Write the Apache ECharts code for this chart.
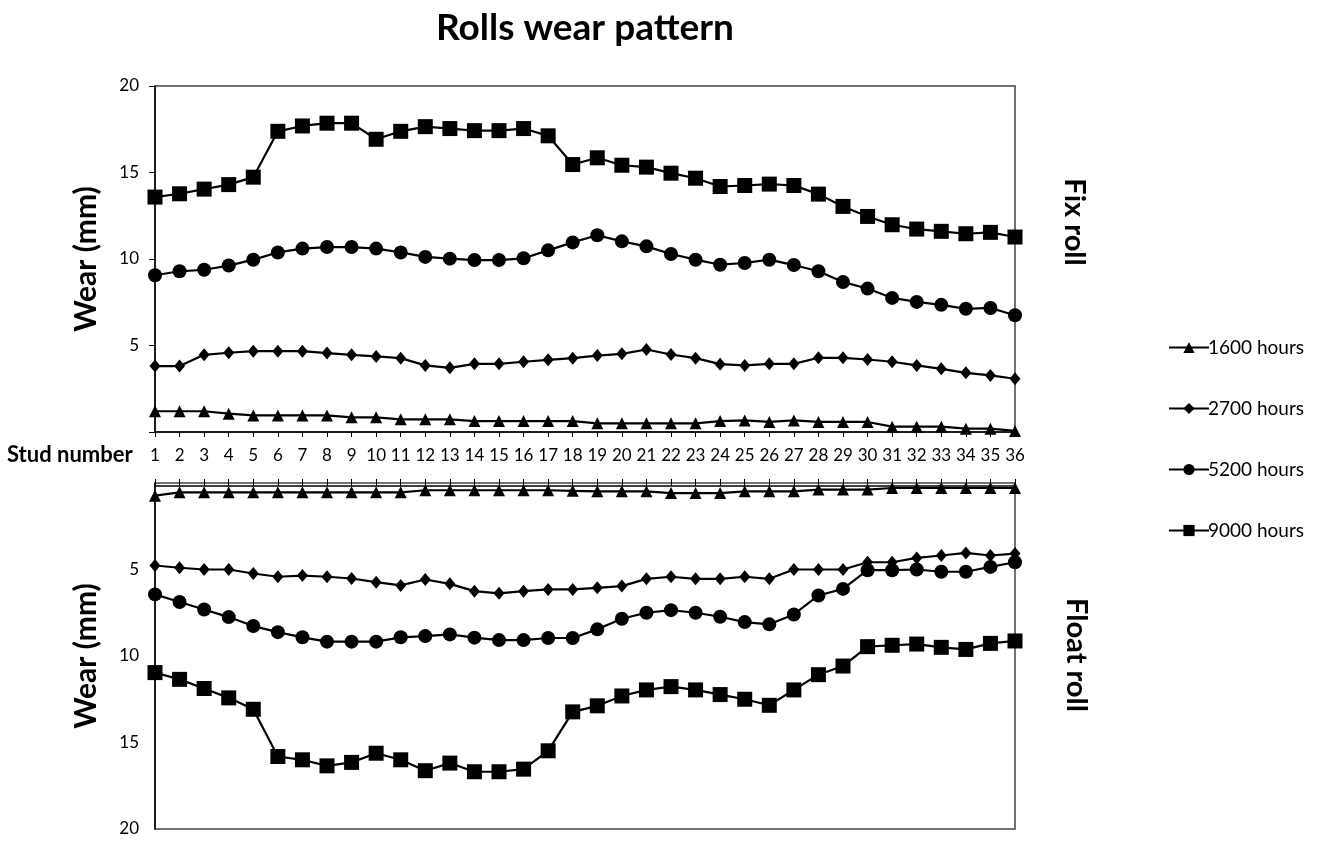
<!DOCTYPE html>
<html>
<head>
<meta charset="utf-8">
<script src="https://cdn.jsdelivr.net/npm/echarts@6/dist/echarts.min.js"></script>
<style>
  html, body { margin: 0; padding: 0; background: #fff; }
  #chart { width: 1320px; height: 843px; }
</style>
</head>
<body>
<div id="chart"></div>
<script>
// Stud positions along the roll
const studs = ['1','2','3','4','5','6','7','8','9','10','11','12','13','14','15','16','17','18',
  '19','20','21','22','23','24','25','26','27','28','29','30','31','32','33','34','35','36'];

const hours = ['1600 hours', '2700 hours', '5200 hours', '9000 hours'];
const wearTicks = [0, 5, 10, 15, 20];

// Fix roll wear (mm)
const fix1600 = [1.2,1.2,1.2,1.06,0.96,0.96,0.96,0.96,0.85,0.85,0.73,0.73,0.73,0.63,0.63,0.63,0.63,0.63,
  0.5,0.5,0.5,0.5,0.5,0.63,0.67,0.58,0.67,0.58,0.58,0.58,0.31,0.31,0.31,0.19,0.19,0.06];
const fix2700 = [3.81,3.81,4.46,4.58,4.67,4.67,4.67,4.56,4.46,4.37,4.27,3.85,3.71,3.94,3.94,4.06,4.17,4.27,
  4.42,4.52,4.77,4.48,4.27,3.92,3.85,3.94,3.94,4.29,4.29,4.19,4.06,3.85,3.65,3.42,3.27,3.08];
const fix5200 = [9.06,9.29,9.38,9.62,9.96,10.38,10.6,10.69,10.69,10.6,10.38,10.12,10.02,9.94,9.94,10.04,10.5,10.96,
  11.37,11.02,10.73,10.29,9.96,9.67,9.77,9.96,9.65,9.29,8.67,8.29,7.75,7.52,7.35,7.12,7.17,6.75];
const fix9000 = [13.58,13.77,14.04,14.3,14.73,17.38,17.69,17.85,17.85,16.92,17.38,17.65,17.54,17.42,17.42,17.54,17.12,15.46,
  15.85,15.42,15.31,14.96,14.67,14.19,14.25,14.33,14.25,13.75,13.04,12.46,11.98,11.73,11.6,11.46,11.54,11.27];

// Float roll wear (mm)
const float1600 = [0.73,0.54,0.54,0.54,0.54,0.54,0.54,0.54,0.54,0.54,0.54,0.42,0.42,0.42,0.42,0.42,0.42,0.45,
  0.48,0.48,0.48,0.58,0.58,0.58,0.48,0.48,0.48,0.38,0.38,0.38,0.29,0.29,0.29,0.29,0.29,0.29];
const float2700 = [4.77,4.9,5.0,5.0,5.23,5.42,5.35,5.42,5.52,5.73,5.92,5.58,5.83,6.25,6.38,6.25,6.15,6.15,
  6.06,5.96,5.54,5.42,5.54,5.54,5.42,5.54,5.0,5.0,5.0,4.58,4.58,4.33,4.19,4.04,4.19,4.08];
const float5200 = [6.44,6.88,7.31,7.75,8.27,8.62,8.92,9.17,9.17,9.17,8.92,8.85,8.75,8.94,9.08,9.08,8.96,8.96,
  8.46,7.85,7.5,7.35,7.5,7.73,8.04,8.17,7.6,6.5,6.12,5.04,5.04,5.0,5.13,5.13,4.85,4.58];
const float9000 = [10.96,11.35,11.88,12.42,13.08,15.81,16.0,16.35,16.15,15.62,16.0,16.63,16.19,16.69,16.69,16.54,15.48,13.23,
  12.88,12.31,11.96,11.77,11.96,12.23,12.5,12.85,11.96,11.08,10.58,9.46,9.38,9.31,9.5,9.62,9.27,9.13];

const FONT = 'Lato, "Open Sans", sans-serif';
const INK = '#000';

const symbols = [
  { symbol: 'triangle', size: 12 },
  { symbol: 'diamond', size: [11, 13] },
  { symbol: 'circle', size: 14 },
  { symbol: 'rect', size: 15 }
];

function makeSeries(name, data, gridIdx, style) {
  return {
    name: name,
    type: 'line',
    xAxisIndex: gridIdx,
    yAxisIndex: gridIdx,
    data: data,
    symbol: style.symbol,
    symbolSize: style.size,
    showAllSymbol: true,
    lineStyle: { color: INK, width: 2.2 },
    itemStyle: { color: INK, borderColor: INK, borderWidth: 0 },
    emphasis: { disabled: true },
    animation: false
  };
}

const fixSets = [fix1600, fix2700, fix5200, fix9000];
const floatSets = [float1600, float2700, float5200, float9000];
const series = [];
hours.forEach((h, i) => series.push(makeSeries(h, fixSets[i], 0, symbols[i])));
hours.forEach((h, i) => series.push(makeSeries(h, floatSets[i], 1, symbols[i])));

const yLabel = {
  color: INK, fontFamily: FONT, fontSize: 17, margin: 16,
  formatter: v => (v === wearTicks[0] ? '' : String(v))
};
const yName = { fontFamily: FONT, fontSize: 30, fontWeight: 'bold', color: INK };

const chart = echarts.init(document.getElementById('chart'), null, { renderer: 'canvas' });
chart.setOption({
  backgroundColor: '#fff',
  animation: false,
  title: {
    text: 'Rolls wear pattern',
    left: 580, top: 5,
    textAlign: 'center',
    textStyle: { fontFamily: FONT, fontSize: 37, fontWeight: 'bold', color: INK }
  },
  legend: {
    data: hours,
    orient: 'vertical',
    left: 1163, top: 333,
    itemGap: 42,
    itemWidth: 40, itemHeight: 14,
    textStyle: { fontFamily: FONT, fontSize: 19, color: INK, padding: [0, 0, 0, -6] },
    selectedMode: false
  },
  grid: [
    { left: 155, right: 305, top: 86, height: 346, show: true, borderColor: '#444', borderWidth: 1.5, containLabel: false },
    { left: 155, right: 305, top: 483, height: 346, show: true, borderColor: '#444', borderWidth: 1.5, containLabel: false }
  ],
  xAxis: [
    {
      type: 'category', gridIndex: 0, data: studs, boundaryGap: false, position: 'bottom',
      axisLine: { lineStyle: { color: INK, width: 1.5 } },
      axisTick: { show: true, length: 5, lineStyle: { color: INK }, interval: 0 },
      axisLabel: { interval: 0, color: INK, fontFamily: FONT, fontSize: 17, margin: 15 }
    },
    {
      type: 'category', gridIndex: 1, data: studs, boundaryGap: false, position: 'top', offset: -3,
      axisLine: { lineStyle: { color: INK, width: 1.5 } },
      axisTick: { show: true, length: 7, lineStyle: { color: INK }, interval: 0 },
      axisLabel: { show: false }
    }
  ],
  yAxis: [
    {
      type: 'value', gridIndex: 0, min: 0, max: 20, interval: 5,
      name: 'Wear (mm)', nameLocation: 'middle', nameGap: 54, nameRotate: 90,
      nameTextStyle: yName,
      axisLine: { show: true, lineStyle: { color: INK, width: 1.5 } },
      axisTick: { show: true, length: 6, lineStyle: { color: INK } },
      splitLine: { show: false },
      axisLabel: yLabel
    },
    {
      type: 'value', gridIndex: 1, min: 0, max: 20, interval: 5, inverse: true,
      name: 'Wear (mm)', nameLocation: 'middle', nameGap: 54, nameRotate: 90,
      nameTextStyle: yName,
      axisLine: { show: true, lineStyle: { color: INK, width: 1.5 } },
      axisTick: { show: false },
      splitLine: { show: false },
      axisLabel: yLabel
    }
  ],
  graphic: [
    {
      type: 'text', left: 7, top: 444,
      style: { text: 'Stud number', fontFamily: FONT, fontSize: 22, fontWeight: 'bold', fill: INK }
    },
    {
      type: 'text', x: 1074, y: 222, rotation: -Math.PI / 2,
      style: { text: 'Fix roll', fontFamily: FONT, fontSize: 29, fontWeight: 'bold', fill: INK,
               textAlign: 'center', textVerticalAlign: 'middle' }
    },
    {
      type: 'text', x: 1076, y: 655, rotation: -Math.PI / 2,
      style: { text: 'Float roll', fontFamily: FONT, fontSize: 29, fontWeight: 'bold', fill: INK,
               textAlign: 'center', textVerticalAlign: 'middle' }
    }
  ],
  series: series
});
</script>
</body>
</html>
